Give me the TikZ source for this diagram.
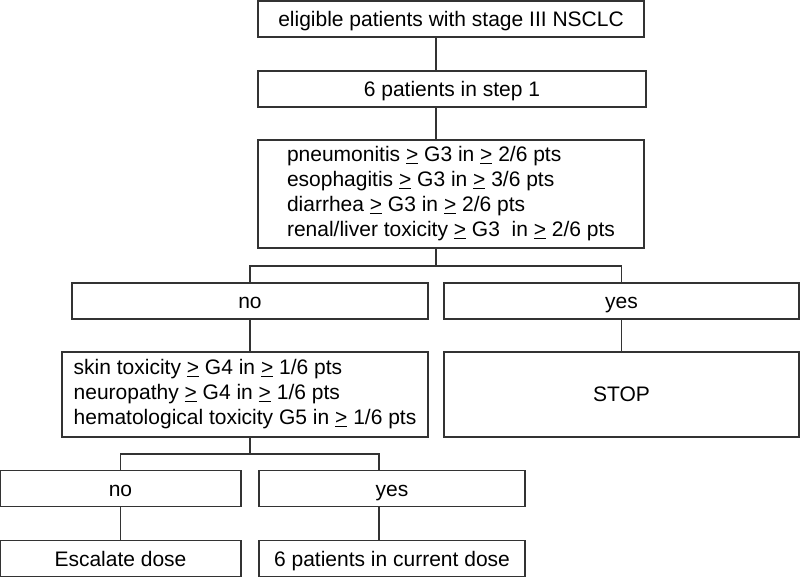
\documentclass[tikz,border=0pt]{standalone}
\usepackage{fontspec}
\setmainfont{Liberation Sans}
\newcommand{\atleast}{\underline{>}}
\begin{document}
\begin{tikzpicture}
  [x=1pt,y=-1pt,line width=1.7pt,draw=black!80,
   every node/.style={draw=black!80,line width=1.7pt,inner sep=0pt,align=left,
     font=\fontsize{21}{25}\selectfont},
   box/.style={minimum height=36pt,text height=15pt,text depth=0pt}]
  \useasboundingbox (0,0) rectangle (800,578);

  \node[box,minimum width=386pt] (elig) at (451,19) {eligible patients with stage III NSCLC};
  \node[box,minimum width=388pt] (step) at (452,89) {6 patients in step 1};
  \node[minimum width=386pt,minimum height=108pt] (crit) at (451,194)
    {pneumonitis \atleast{} G3 in \atleast{} 2/6 pts\\
     esophagitis \atleast{} G3 in \atleast{} 3/6 pts\\
     diarrhea \atleast{} G3 in \atleast{} 2/6 pts\\
     renal/liver toxicity \atleast{} G3~ in \atleast{} 2/6 pts};
  \node[box,minimum width=356pt] (no1) at (250,301) {no};
  \node[box,minimum width=355pt] (yes1) at (621.5,301) {yes};
  \node[minimum width=366pt,minimum height=85pt] (skin) at (245,394.5)
    {skin toxicity \atleast{} G4 in \atleast{} 1/6 pts\\
     neuropathy \atleast{} G4 in \atleast{} 1/6 pts\\
     hematological toxicity G5 in \atleast{} 1/6 pts};
  \node[minimum width=355pt,minimum height=85pt] (stop) at (621.5,394.5) {STOP};
  \node[box,minimum width=241pt] (no2) at (120.5,488.5) {no};
  \node[box,minimum width=266pt] (yes2) at (392,488.5) {yes};
  \node[box,minimum width=241pt] (esc) at (120.5,558.5) {Escalate dose};
  \node[box,minimum width=266pt] (cur) at (392,558.5) {6 patients in current dose};

  \coordinate (trunk) at (436,0);
  \coordinate (split1) at (436,266);
  \coordinate (split2) at (250,454);
  \coordinate (leg) at (379,0);

  \foreach \from/\to in {elig/step,step/crit}
    \draw (\from.south -| trunk) -- (\to.north -| trunk);
  \draw (crit.south -| trunk) -- (split1);
  \draw (no1.north) |- (split1) -| (yes1.north);
  \draw (no1.south) -- (no1.south |- skin.north);
  \draw (yes1) -- (stop);
  \draw (skin.south -| split2) -- (split2);
  \draw (no2.north) |- (split2) -| (yes2.north -| leg);
  \draw (no2) -- (esc);
  \draw (yes2.south -| leg) -- (cur.north -| leg);

\end{tikzpicture}
\end{document}
